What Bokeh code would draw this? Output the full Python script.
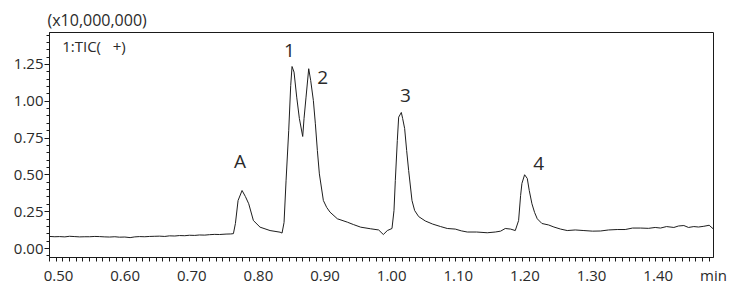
from bokeh.plotting import figure
from bokeh.models import Range1d, LinearAxis, FixedTicker, Label, ColumnDataSource
from bokeh.core.properties import value
from bokeh.embed import file_html
from bokeh.resources import INLINE

# ---- data (intensity in units of x10,000,000) ----
time_min = [0.500, 0.508, 0.515, 0.523, 0.530, 0.538, 0.545, 0.553, 0.560, 0.568, 0.575, 0.583,
            0.590, 0.598, 0.605, 0.613, 0.621, 0.628, 0.635, 0.643, 0.650, 0.658, 0.665, 0.673,
            0.680, 0.688, 0.695, 0.703, 0.710, 0.718, 0.725, 0.733, 0.740, 0.748, 0.755, 0.765,
            0.772, 0.776, 0.779, 0.783, 0.789, 0.794, 0.799, 0.806, 0.816, 0.831, 0.846, 0.849,
            0.852, 0.855, 0.859, 0.862, 0.864, 0.867, 0.871, 0.875, 0.880, 0.882, 0.885, 0.889,
            0.892, 0.896, 0.899, 0.902, 0.905, 0.911, 0.916, 0.921, 0.932, 0.947, 0.956, 0.967,
            0.982, 0.994, 1.001, 1.007, 1.014, 1.017, 1.019, 1.022, 1.024, 1.028, 1.030, 1.033,
            1.036, 1.039, 1.044, 1.048, 1.054, 1.064, 1.075, 1.087, 1.097, 1.109, 1.118, 1.127,
            1.141, 1.157, 1.169, 1.177, 1.184, 1.192, 1.199, 1.204, 1.207, 1.209, 1.213, 1.217,
            1.220, 1.224, 1.228, 1.232, 1.239, 1.249, 1.257, 1.267, 1.277, 1.289, 1.302, 1.315,
            1.327, 1.339, 1.352, 1.364, 1.375, 1.387, 1.399, 1.409, 1.417, 1.426, 1.437, 1.444,
            1.452, 1.459, 1.467, 1.474, 1.482, 1.490, 1.496]
tic = [0.082, 0.080, 0.081, 0.079, 0.083, 0.081, 0.079, 0.080, 0.080, 0.082, 0.081, 0.079,
       0.078, 0.080, 0.077, 0.078, 0.074, 0.079, 0.081, 0.080, 0.082, 0.083, 0.084, 0.082,
       0.086, 0.085, 0.088, 0.087, 0.090, 0.089, 0.092, 0.091, 0.094, 0.096, 0.095, 0.098,
       0.099, 0.101, 0.170, 0.326, 0.394, 0.353, 0.304, 0.190, 0.145, 0.122, 0.111, 0.105,
       0.177, 0.460, 0.800, 1.107, 1.236, 1.198, 1.028, 0.883, 0.761, 0.883, 1.028, 1.221,
       1.141, 1.005, 0.847, 0.666, 0.507, 0.326, 0.279, 0.247, 0.202, 0.179, 0.163, 0.145,
       0.134, 0.126, 0.095, 0.122, 0.136, 0.258, 0.462, 0.734, 0.892, 0.924, 0.883, 0.815,
       0.666, 0.530, 0.326, 0.258, 0.217, 0.187, 0.166, 0.149, 0.136, 0.132, 0.120, 0.112,
       0.112, 0.107, 0.112, 0.118, 0.136, 0.132, 0.122, 0.190, 0.360, 0.442, 0.501, 0.476,
       0.394, 0.304, 0.245, 0.202, 0.170, 0.160, 0.146, 0.132, 0.122, 0.126, 0.122, 0.118,
       0.119, 0.126, 0.129, 0.129, 0.139, 0.139, 0.137, 0.143, 0.139, 0.149, 0.143, 0.153,
       0.156, 0.143, 0.149, 0.146, 0.151, 0.158, 0.134]

peak_names = ["A", "1", "2", "3", "4"]
peak_label_x = [0.786, 0.860, 0.910, 1.034, 1.234]
peak_label_y = [0.591, 1.345, 1.162, 1.039, 0.577]

x_tick_values = [0.5, 0.6, 0.7, 0.8, 0.9, 1.0, 1.1, 1.2, 1.3, 1.4]
x_tick_labels = ["0.50", "0.60", "0.70", "0.80", "0.90", "1.00", "1.10", "1.20", "1.30", "1.40"]
x_unit = "min"
y_tick_values = [0.0, 0.25, 0.5, 0.75, 1.0, 1.25]
y_tick_labels = ["0.00", "0.25", "0.50", "0.75", "1.00", "1.25"]
y_scale_note = "(x10,000,000)"
trace_name = "1:TIC(\u00a0\u00a0\u00a0+)"

FONT = "Open Sans"
TXT = "#2a2a2a"

X0, X1 = 0.5, 1.4965
Y0, Y1 = -0.061, 1.467
p = figure(width=748, height=296, x_range=Range1d(X0, X1), y_range=Range1d(Y0, Y1),
           output_backend="svg", toolbar_location=None,
           min_border_left=49, min_border_right=35, min_border_top=32, min_border_bottom=39)
p.background_fill_color = "white"
p.border_fill_color = "white"
p.outline_line_color = "#1a1a1a"
p.outline_line_width = 1
p.xgrid.visible = False
p.ygrid.visible = False

# scale note as title, top-left
p.title.text = y_scale_note
p.title.align = "left"
p.title.offset = -2
p.title.standoff = 4
p.title.text_font = FONT
p.title.text_font_size = "16px"
p.title.text_font_style = "normal"
p.title.text_color = TXT

# chromatogram trace
src = ColumnDataSource(dict(t=time_min, v=tic))
p.line("t", "v", source=src, line_color="#1e1e1e", line_width=1)

# peak labels
lab_src = ColumnDataSource(dict(x=peak_label_x, y=peak_label_y, n=peak_names))
p.text("x", "y", text="n", source=lab_src, text_font=value(FONT), text_font_size="19px",
       text_align="center", text_baseline="middle", text_color=TXT)

# main x axis: tick marks only (every 0.01)
xa = p.xaxis[0]
minor_x = [round(0.5 + 0.01 * i, 2) for i in range(100)]
xa.ticker = FixedTicker(ticks=[], minor_ticks=minor_x)
xa.major_tick_in = 0
xa.major_tick_out = 0
xa.minor_tick_in = 0
xa.minor_tick_out = 4
xa.major_label_standoff = 0
xa.axis_line_color = "#1a1a1a"
xa.minor_tick_line_color = "#1a1a1a"

# label axis (labels sit slightly right of their ticks, as in the reference)
d = 9.0 / 666.0
p.extra_x_ranges = {"lab": Range1d(X0 - d, X1 - d)}
lab_ticks = x_tick_values + [X1 - d - 1e-6]
lab_texts = x_tick_labels + [x_unit]
la = LinearAxis(x_range_name="lab", ticker=FixedTicker(ticks=lab_ticks, minor_ticks=[]))
la.major_label_overrides = dict(zip(lab_ticks, lab_texts))
la.axis_line_color = None
la.major_tick_line_color = None
la.minor_tick_line_color = None
la.major_tick_out = 0
la.major_tick_in = 0
la.major_label_standoff = 3
la.major_label_text_font = FONT
la.major_label_text_font_size = "15px"
la.major_label_text_color = TXT
p.add_layout(la, "below")

# y axis
ya = p.yaxis[0]
minor_y = [round(-0.05 + 0.05 * i, 2) for i in range(31)]
ya.ticker = FixedTicker(ticks=y_tick_values, minor_ticks=minor_y)
ya.major_label_overrides = dict(zip(y_tick_values, y_tick_labels))
ya.major_tick_in = 0
ya.major_tick_out = 5
ya.minor_tick_in = 0
ya.minor_tick_out = 3
ya.major_label_standoff = 1
ya.major_label_text_font = FONT
ya.major_label_text_font_size = "15px"
ya.major_label_text_color = TXT
ya.axis_line_color = "#1a1a1a"
ya.major_tick_line_color = "#1a1a1a"
ya.minor_tick_line_color = "#1a1a1a"

# trace name inside the frame
p.add_layout(Label(x=0.519, y=1.372, text=trace_name, text_font=FONT,
                   text_font_size="15px", text_color=TXT, text_baseline="middle",
                   text_align="left"))

open("out.html", "w").write(file_html(p, INLINE))
